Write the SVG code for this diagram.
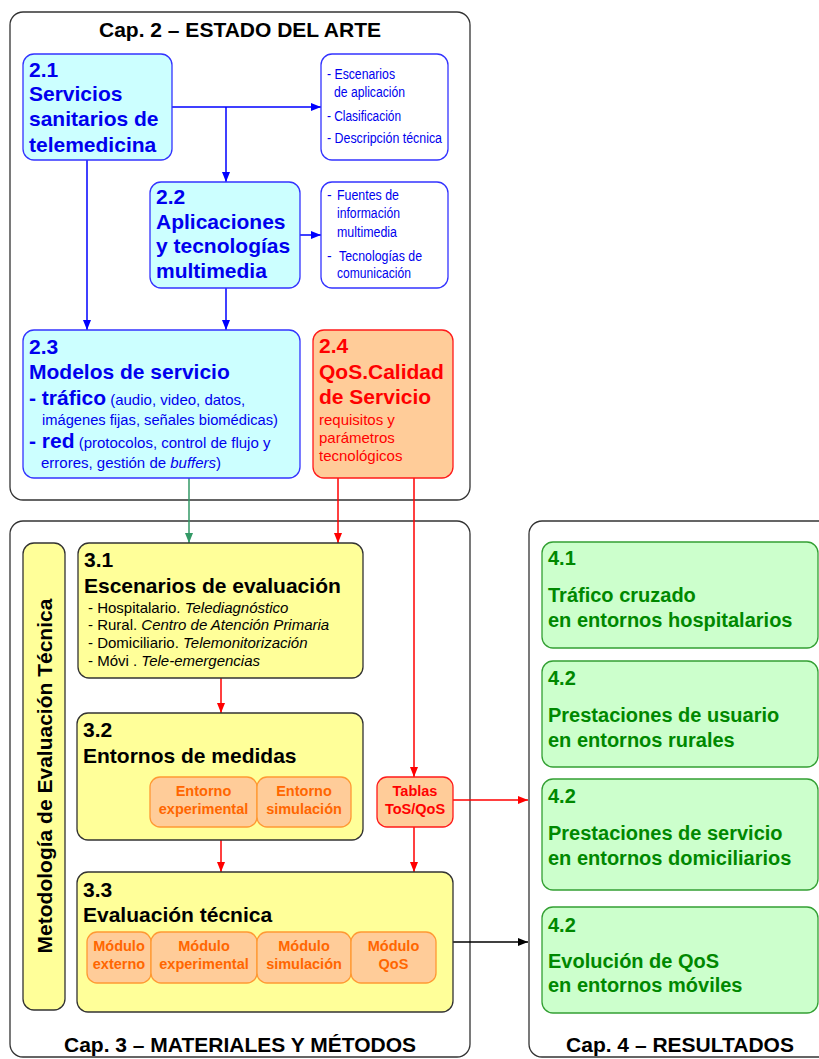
<svg xmlns="http://www.w3.org/2000/svg" width="819" height="1059" viewBox="0 0 819 1059">
  <defs>
    <style>
      text { font-family: "Liberation Sans", Arial, sans-serif; }
      .b { font-weight: bold; }
      .i { font-style: italic; }
      .frame { fill: #ffffff; stroke: #333333; stroke-width: 1.3; }
      .title { font-size: 21px; font-weight: bold; fill: #000000; text-anchor: middle; }
      .cyan { fill: #ccffff; stroke: #3333ff; stroke-width: 1.3; }
      .note { fill: #ffffff; stroke: #3333ff; stroke-width: 1.3; }
      .qos { fill: #ffcc99; stroke: #ff1a1a; stroke-width: 1.3; }
      .yel { fill: #ffff99; stroke: #333333; stroke-width: 1.3; }
      .mod { fill: #ffcc99; stroke: #ff9933; stroke-width: 1.3; }
      .grn { fill: #ccffcc; stroke: #33a033; stroke-width: 1.3; }
      .tb { fill: #0000ee; }
      .tr { fill: #ff0000; }
      .tk { fill: #000000; }
      .to { fill: #ff6600; font-size: 14.5px; font-weight: bold; text-anchor: middle; }
      .tt { fill: #ff0000; font-size: 14.5px; font-weight: bold; text-anchor: middle; }
      .tg { fill: #008800; font-weight: bold; font-size: 20px; }
      .big { font-size: 21px; font-weight: bold; }
      .note-t { font-size: 14px; fill: #0000ee; }
      .cb { fill: none; stroke: #0000ff; stroke-width: 1.5; }
      .cr { fill: none; stroke: #ff0000; stroke-width: 1.5; }
      .cg { fill: none; stroke: #339966; stroke-width: 1.5; }
      .ck { fill: none; stroke: #000000; stroke-width: 1.5; }
    </style>
    <marker id="ab" viewBox="0 0 10 8" refX="10" refY="4" markerWidth="10" markerHeight="8" markerUnits="userSpaceOnUse" orient="auto">
      <path d="M0,0 L10,4 L0,8 z" fill="#0000ff"/>
    </marker>
    <marker id="ar" viewBox="0 0 10 8" refX="10" refY="4" markerWidth="10" markerHeight="8" markerUnits="userSpaceOnUse" orient="auto">
      <path d="M0,0 L10,4 L0,8 z" fill="#ff0000"/>
    </marker>
    <marker id="ag" viewBox="0 0 10 8" refX="10" refY="4" markerWidth="10" markerHeight="8" markerUnits="userSpaceOnUse" orient="auto">
      <path d="M0,0 L10,4 L0,8 z" fill="#339966"/>
    </marker>
    <marker id="ak" viewBox="0 0 10 8" refX="10" refY="4" markerWidth="10" markerHeight="8" markerUnits="userSpaceOnUse" orient="auto">
      <path d="M0,0 L10,4 L0,8 z" fill="#000000"/>
    </marker>
  </defs>

  <rect width="819" height="1059" fill="#ffffff"/>

  <!-- Chapter frames -->
  <g id="cap2">
    <rect class="frame" x="10" y="12" width="460" height="488" rx="13"/>
    <text class="title" x="240" y="37">Cap. 2 – ESTADO DEL ARTE</text>
  </g>
  <g id="cap3">
    <rect class="frame" x="10" y="521" width="460" height="536" rx="13"/>
    <text class="title" x="240" y="1052">Cap. 3 – MATERIALES Y MÉTODOS</text>
  </g>
  <g id="cap4">
    <rect class="frame" x="529" y="521" width="310" height="536" rx="13"/>
    <text class="title" x="680" y="1052">Cap. 4 – RESULTADOS</text>
  </g>

  <!-- Connectors -->
  <g id="connectors">
    <path class="cb" d="M172,107 H321" marker-end="url(#ab)"/>
    <path class="cb" d="M226,107 V182" marker-end="url(#ab)"/>
    <path class="cb" d="M300,235 H321" marker-end="url(#ab)"/>
    <path class="cb" d="M87,160 V330" marker-end="url(#ab)"/>
    <path class="cb" d="M226,288 V330" marker-end="url(#ab)"/>
    <path class="cg" d="M189,478 V543" marker-end="url(#ag)"/>
    <path class="cr" d="M338,478 V543" marker-end="url(#ar)"/>
    <path class="cr" d="M414,478 V777" marker-end="url(#ar)"/>
    <path class="cr" d="M221,678 V713" marker-end="url(#ar)"/>
    <path class="cr" d="M221,840 V872" marker-end="url(#ar)"/>
    <path class="cr" d="M414,827 V872" marker-end="url(#ar)"/>
    <path class="cr" d="M453,800 H528" marker-end="url(#ar)"/>
    <path class="ck" d="M453,942 H528" marker-end="url(#ak)"/>
  </g>

  <!-- 2.1 -->
  <g id="n21">
    <rect class="cyan" x="23" y="54" width="149" height="106" rx="11"/>
    <text class="big tb" x="29" y="77">2.1</text>
    <text class="big tb" x="29" y="101">Servicios</text>
    <text class="big tb" x="29" y="126">sanitarios de</text>
    <text class="big tb" x="29" y="152">telemedicina</text>
  </g>

  <!-- notes for 2.1 -->
  <g id="note21">
    <rect class="note" x="321" y="54" width="127" height="106" rx="11"/>
    <text class="note-t" x="327" y="79" textLength="68" lengthAdjust="spacingAndGlyphs">- Escenarios</text>
    <text class="note-t" x="334" y="97" textLength="71" lengthAdjust="spacingAndGlyphs">de aplicación</text>
    <text class="note-t" x="327" y="121" textLength="74" lengthAdjust="spacingAndGlyphs">- Clasificación</text>
    <text class="note-t" x="327" y="143" textLength="115" lengthAdjust="spacingAndGlyphs">- Descripción técnica</text>
  </g>

  <!-- 2.2 -->
  <g id="n22">
    <rect class="cyan" x="150" y="182" width="150" height="106" rx="11"/>
    <text class="big tb" x="156" y="204">2.2</text>
    <text class="big tb" x="156" y="229">Aplicaciones</text>
    <text class="big tb" x="156" y="253">y tecnologías</text>
    <text class="big tb" x="156" y="278">multimedia</text>
  </g>

  <!-- notes for 2.2 -->
  <g id="note22">
    <rect class="note" x="321" y="182" width="127" height="106" rx="11"/>
    <text class="note-t" x="327" y="200">-</text>
    <text class="note-t" x="337" y="200" textLength="62" lengthAdjust="spacingAndGlyphs">Fuentes de</text>
    <text class="note-t" x="337" y="218" textLength="63" lengthAdjust="spacingAndGlyphs">información</text>
    <text class="note-t" x="337" y="237" textLength="60" lengthAdjust="spacingAndGlyphs">multimedia</text>
    <text class="note-t" x="327" y="261">-</text>
    <text class="note-t" x="339" y="261" textLength="83" lengthAdjust="spacingAndGlyphs">Tecnologías de</text>
    <text class="note-t" x="337" y="278" textLength="74" lengthAdjust="spacingAndGlyphs">comunicación</text>
  </g>

  <!-- 2.3 -->
  <g id="n23">
    <rect class="cyan" x="23" y="330" width="277" height="148" rx="11"/>
    <text class="big tb" x="29" y="354">2.3</text>
    <text class="big tb" x="29" y="379">Modelos de servicio</text>
    <text class="tb" x="29" y="405"><tspan class="big">- tráfico</tspan><tspan font-size="15px"> (audio, video, datos,</tspan></text>
    <text class="tb" x="42" y="425" font-size="14.7px">imágenes fijas, señales biomédicas)</text>
    <text class="tb" x="29" y="448"><tspan class="big">- red</tspan><tspan font-size="15px"> (protocolos, control de flujo y</tspan></text>
    <text class="tb" x="41" y="468" font-size="15px">errores, gestión de <tspan class="i">buffers</tspan>)</text>
  </g>

  <!-- 2.4 -->
  <g id="n24">
    <rect class="qos" x="313" y="330" width="140" height="148" rx="11"/>
    <text class="big tr" x="319" y="353">2.4</text>
    <text class="big tr" x="319" y="379">QoS.Calidad</text>
    <text class="big tr" x="319" y="404">de Servicio</text>
    <text class="tr" x="319" y="425" font-size="15px">requisitos y</text>
    <text class="tr" x="319" y="443" font-size="15px">parámetros</text>
    <text class="tr" x="319" y="461" font-size="15px">tecnológicos</text>
  </g>

  <!-- vertical label -->
  <g id="metodologia">
    <rect class="yel" x="23" y="543" width="42" height="467" rx="11"/>
    <text class="big tk" transform="translate(52,776) rotate(-90)" text-anchor="middle">Metodología de Evaluación Técnica</text>
  </g>

  <!-- 3.1 -->
  <g id="n31">
    <rect class="yel" x="78" y="543" width="285" height="135" rx="11"/>
    <text class="big tk" x="84" y="567">3.1</text>
    <text class="big tk" x="84" y="593">Escenarios de evaluación</text>
    <text class="tk" x="88" y="613" font-size="15px">- Hospitalario. <tspan class="i">Telediagnóstico</tspan></text>
    <text class="tk" x="88" y="630" font-size="15px">- Rural. <tspan class="i">Centro de Atención Primaria</tspan></text>
    <text class="tk" x="88" y="648" font-size="15px">- Domiciliario. <tspan class="i">Telemonitorización</tspan></text>
    <text class="tk" x="88" y="666" font-size="15px">- Móvi . <tspan class="i">Tele-emergencias</tspan></text>
  </g>

  <!-- 3.2 -->
  <g id="n32">
    <rect class="yel" x="77" y="713" width="286" height="127" rx="11"/>
    <text class="big tk" x="83" y="737">3.2</text>
    <text class="big tk" x="83" y="763">Entornos de medidas</text>
    <rect class="mod" x="150" y="777" width="107" height="50" rx="10"/>
    <text class="to" x="203.5" y="796">Entorno</text>
    <text class="to" x="203.5" y="814">experimental</text>
    <rect class="mod" x="257" y="777" width="94" height="50" rx="10"/>
    <text class="to" x="304" y="796">Entorno</text>
    <text class="to" x="304" y="814">simulación</text>
  </g>

  <!-- Tablas ToS/QoS -->
  <g id="tablas">
    <rect class="qos" x="377" y="777" width="76" height="50" rx="10"/>
    <text class="tt" x="415" y="796">Tablas</text>
    <text class="tt" x="415" y="814">ToS/QoS</text>
  </g>

  <!-- 3.3 -->
  <g id="n33">
    <rect class="yel" x="77" y="872" width="376" height="140" rx="11"/>
    <text class="big tk" x="83" y="897">3.3</text>
    <text class="big tk" x="83" y="922">Evaluación técnica</text>
    <rect class="mod" x="87" y="932" width="64" height="51" rx="10"/>
    <text class="to" x="119" y="951">Módulo</text>
    <text class="to" x="119" y="969">externo</text>
    <rect class="mod" x="151" y="932" width="106" height="51" rx="10"/>
    <text class="to" x="204" y="951">Módulo</text>
    <text class="to" x="204" y="969">experimental</text>
    <rect class="mod" x="257" y="932" width="94" height="51" rx="10"/>
    <text class="to" x="304" y="951">Módulo</text>
    <text class="to" x="304" y="969">simulación</text>
    <rect class="mod" x="351" y="932" width="85" height="51" rx="10"/>
    <text class="to" x="393.5" y="951">Módulo</text>
    <text class="to" x="393.5" y="969">QoS</text>
  </g>

  <!-- Results -->
  <g id="n41">
    <rect class="grn" x="542" y="542" width="276" height="106" rx="11"/>
    <text class="tg" x="548" y="565">4.1</text>
    <text class="tg" x="548" y="602">Tráfico cruzado</text>
    <text class="tg" x="548" y="627">en entornos hospitalarios</text>
  </g>
  <g id="n42a">
    <rect class="grn" x="542" y="661" width="276" height="106" rx="11"/>
    <text class="tg" x="548" y="685">4.2</text>
    <text class="tg" x="548" y="722">Prestaciones de usuario</text>
    <text class="tg" x="548" y="747">en entornos rurales</text>
  </g>
  <g id="n42b">
    <rect class="grn" x="542" y="779" width="276" height="111" rx="11"/>
    <text class="tg" x="548" y="803">4.2</text>
    <text class="tg" x="548" y="840">Prestaciones de servicio</text>
    <text class="tg" x="548" y="865">en entornos domiciliarios</text>
  </g>
  <g id="n42c">
    <rect class="grn" x="542" y="907" width="276" height="106" rx="11"/>
    <text class="tg" x="548" y="932">4.2</text>
    <text class="tg" x="548" y="968">Evolución de QoS</text>
    <text class="tg" x="548" y="992">en entornos móviles</text>
  </g>
</svg>
